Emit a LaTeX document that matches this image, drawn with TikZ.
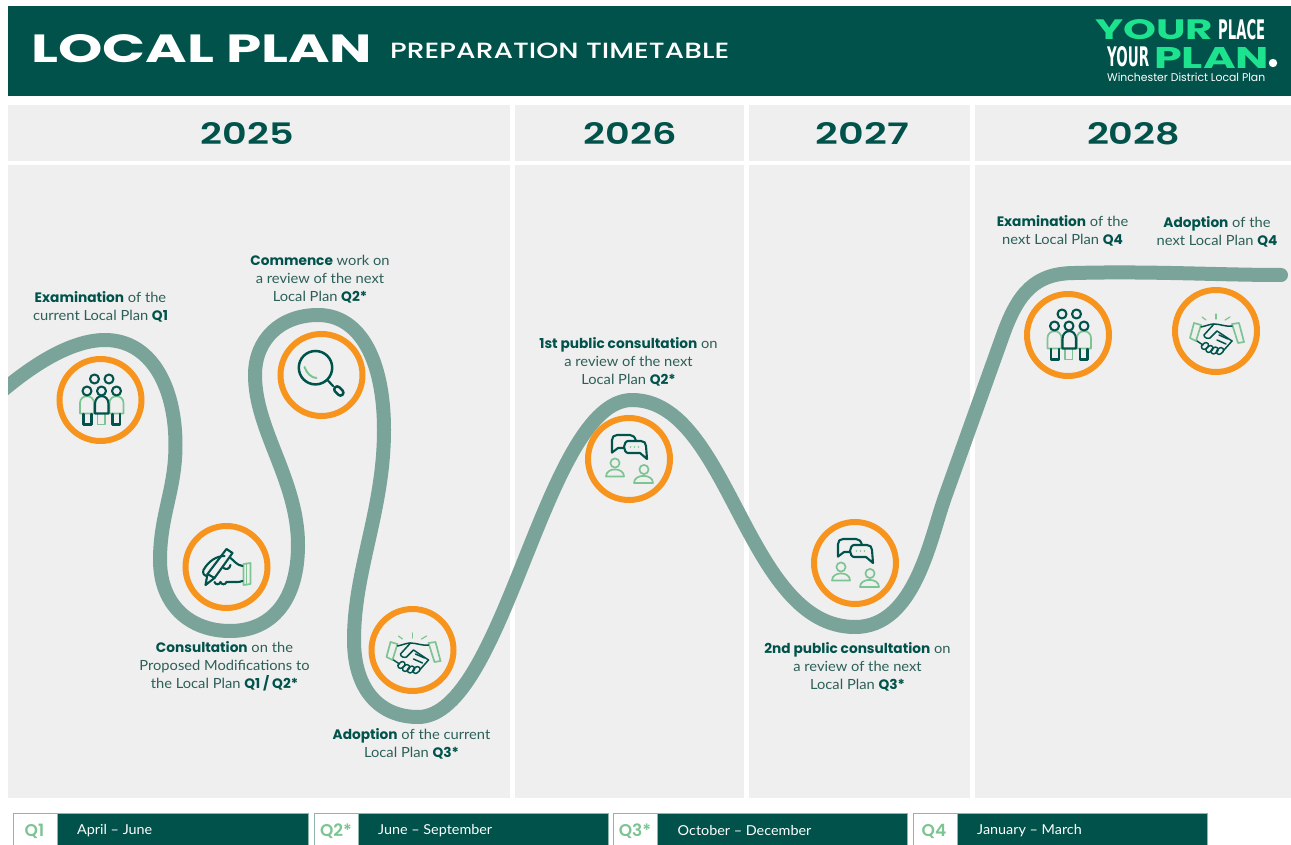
\documentclass[tikz,border=0pt]{standalone}
\usepackage{fontspec}
\usepackage{graphicx}
\setmainfont[FakeStretch=1.05]{Lato}
\newfontfamily\popf{Poppins}
\newfontfamily\popm{Poppins Medium}
\newfontfamily\pops{Poppins SemiBold}
\newfontfamily\narrf{DejaVu Sans}
\definecolor{deep}{HTML}{00524A}
\definecolor{panelgrey}{HTML}{EFEFEF}
\definecolor{road}{HTML}{7AA399}
\definecolor{ringo}{HTML}{F7941D}
\definecolor{leaf}{HTML}{7CC492}
\definecolor{neon}{HTML}{1DE28E}
\definecolor{bodytx}{HTML}{2C5F58}
\definecolor{edgeq}{HTML}{8FB5AC}
\newcommand{\fitbox}[3]{\resizebox{#1pt}{#2pt}{#3}}
\newcommand{\bt}[1]{{\popf\bfseries\fontsize{13.7}{18}\selectfont\color{deep}#1}}
\tikzset{
  x=1pt,y=-1pt,
  panel/.style={fill=panelgrey,draw=none},
  ring/.style={circle,draw=ringo,line width=6pt,minimum size=82pt,inner sep=0pt},
  dk/.style={draw=deep,line width=2.1pt,line cap=round,line join=round},
  lt/.style={draw=leaf,line width=1.7pt,line cap=round,line join=round},
  label/.style={align=center,inner sep=0pt,text=bodytx,font=\fontsize{14}{18}\selectfont},
  fitted/.style={inner sep=0pt,anchor=west},
  yearlabel/.style={inner sep=0pt,text=deep},
  legbar/.style={fill=deep,draw=edgeq,line width=.8pt},
  legq/.style={fill=white,draw=edgeq,line width=.8pt},
  legtx/.style={inner sep=0pt,anchor=west,text=white,font=\fontsize{13.7}{15}\selectfont},
  legqtx/.style={inner sep=0pt,text=leaf,font=\pops\fontsize{17}{18}\selectfont},
  pics/peopleicon/.style={code={
    \draw[lt] (-20.5,13.5) -- (-20.5,3) .. controls (-20.5,-6) and (-6.5,-6) .. (-6.5,3) -- (-6.5,13.5) -- cycle;
    \draw[lt] (9,13.5) -- (9,3) .. controls (9,-6) and (23,-6) .. (23,3) -- (23,13.5) -- cycle;
    \draw[lt] (-3,13.5) rectangle (4.5,24.5);
    \draw[dk] (-5.5,13.5) -- (-5.5,4) .. controls (-5.5,-6.5) and (8,-6.5) .. (8,4) -- (8,13.5) -- cycle;
    \draw[dk] (-17,14) -- (-17,24.5) -- (-9,24.5) -- (-9,14);
    \draw[dk] (12,14) -- (12,24.5) -- (19.5,24.5) -- (19.5,14);
    \draw[dk] (-6,-21) circle (4.5pt);
    \draw[dk] (8.5,-21) circle (4.5pt);
    \draw[dk] (-13.5,-9) circle (4.5pt);
    \draw[dk] (1,-9) circle (4.5pt);
    \draw[dk] (16,-9) circle (4.5pt);
  }},
  pics/writeicon/.style={code={
    \draw[lt] (17,-3) -- (24,-4) -- (24,17) -- (17,18) -- cycle;
    \draw[lt] (20,-3.5) -- (20,17.5);
    \draw[dk] (-21,18) -- (-19,7) -- (0,-18) -- (6,-14) -- (-12,11) -- cycle;
    \draw[dk] (-19,7) -- (-12,11);
    \draw[dk] (-2,-11) .. controls (-10,-11) and (-18,-6) .. (-23,3) .. controls (-24,6) and (-23,8) .. (-20,9);
    \draw[dk] (4,-9) .. controls (8,-6) and (10,-2) .. (16,-1);
    \draw[dk] (-3,1) .. controls (0,3) and (3,2) .. (4,-2);
    \draw[dk] (-12,15) .. controls (-11,18) and (-7,18) .. (-6,15) .. controls (-5,18) and (-1,18) .. (0,15);
    \draw[dk] (0,15) -- (8,15) .. controls (12,15) and (14,15) .. (16,14);
  }},
  pics/lensicon/.style={code={
    \draw[deep,line width=2.5pt] (-6,-7.3) circle (16.7pt);
    \draw[deep,line width=2.2pt,line cap=round] (6,5) -- (11.5,11);
    \draw[dk,line width=2.5pt,rounded corners=3pt,rotate around={-45:(17.3,16)}] (12,13) rectangle (22.6,19);
    \draw[lt,line width=2pt] (-17,-8) .. controls (-15,-2) and (-10,3) .. (-5,3);
  }},
  pics/shakeicon/.style={code={
    \draw[lt] (-22,-8) -- (-15,-6) -- (-20,10) -- (-26,7) -- cycle;
    \draw[lt] (16,-7) -- (23,-8) -- (28,11) -- (22,12) -- cycle;
    \draw[lt,line width=1.2pt] (-14,-14) -- (-10,-11);
    \draw[lt,line width=1.2pt] (0,-17) -- (0,-12);
    \draw[lt,line width=1.2pt] (14,-14) -- (9,-11);
    \draw[dk,line width=1.5pt] (-15,-4) .. controls (-10,-5) and (-6,-7) .. (-2,-7) .. controls (4,-7) and (10,-4) .. (16,-5);
    \draw[dk,line width=1.5pt] (-2,-7) -- (-12,4) .. controls (-12,7) and (-8,8) .. (-6,7) -- (1,0) -- (16,10);
    \draw[dk,line width=1.5pt] (-19,10) -- (-13,14);
    \draw[dk,line width=1.5pt] (16,10) -- (8,19);
    \draw[dk,line width=1.5pt] (3,4) -- (12,8);
    \draw[dk,line width=1.5pt] (1,9) -- (10,13);
    \foreach \fx/\fy in {-11/15,-6.5/18,-1.5/19.5,4/20}
      \draw[dk,line width=1.5pt,rounded corners=2.4pt,rotate around={40:(\fx,\fy)}] (\fx-3.8,\fy-2.6) rectangle (\fx+3.8,\fy+2.6);
  }},
  pics/talkicon/.style={code={
    \draw[dk] (-17,-6.5) -- (-17,-19) .. controls (-17,-22) and (-15,-24) .. (-12,-24) -- (1,-24) .. controls (4,-24) and (6,-22) .. (7,-18);
    \draw[dk] (-17,-6.5) -- (-11,-11) -- (-5,-11);
    \draw[dk] (-1,-18) -- (12,-18) .. controls (15,-18) and (17,-16) .. (17,-13) -- (18,0) -- (11,-6) -- (-1,-6) .. controls (-3,-6) and (-5,-9) .. (-5,-12) .. controls (-5,-15) and (-3,-18) .. (-1,-18) -- cycle;
    \fill[leaf] (1.5,-12) circle (.9pt) (5.5,-12) circle (.9pt) (9.5,-12) circle (.9pt);
    \draw[lt] (-14,4) circle (4.6pt);
    \draw[lt] (-23,17.5) .. controls (-23,8) and (-5,8) .. (-5,17.5) -- cycle;
    \draw[lt] (15,10.5) circle (4.6pt);
    \draw[lt] (5,24) .. controls (5,14.5) and (24,14.5) .. (24,24) -- cycle;
  }},
}
\begin{document}
\begin{tikzpicture}
\useasboundingbox (0,0) rectangle (1291,845);
\fill[white] (0,0) rectangle (1291,845);
% header
\fill[deep] (8,6) rectangle (1291,96);
\node[fitted,text=white] (ttl) at (31,48.5) {\fitbox{341}{28}{\popf\bfseries LOCAL PLAN}};
\node[fitted,text=white] (sub) at (390,51) {\fitbox{339}{15.5}{\popm PREPARATION TIMETABLE}};
\node[fitted,text=neon] (lg1) at (1095,30) {\fitbox{118}{20}{\popf\bfseries YOUR}};
\node[fitted,text=white] (lg2) at (1218,30) {\fitbox{47}{20}{\narrf\bfseries PLACE}};
\node[fitted,text=white] (lg3) at (1107,57) {\fitbox{42}{20}{\narrf\bfseries YOUR}};
\node[fitted,text=neon] (lg4) at (1154,58) {\fitbox{115}{21}{\popf\bfseries PLAN}};
\fill[white] (1273,63) circle (4.2pt);
\node[fitted,text=white] (lg5) at (1107,77.5) {\fitbox{158}{8.5}{\popf Winchester District Local Plan}};
% year panels
\fill[panel] (8,105) rectangle (510,161);
\fill[panel] (515,105) rectangle (744,161);
\fill[panel] (749,105) rectangle (970,161);
\fill[panel] (975,105) rectangle (1291,161);
\fill[panel] (8,165) rectangle (510,798);
\fill[panel] (515,165) rectangle (744,798);
\fill[panel] (749,165) rectangle (970,798);
\fill[panel] (975,165) rectangle (1291,798);
\node[yearlabel] (y25) at (247.5,133.5) {\fitbox{93}{22}{\pops 2025}};
\node[yearlabel] (y26) at (630,133.5) {\fitbox{93}{22}{\pops 2026}};
\node[yearlabel] (y27) at (862.5,133.5) {\fitbox{93}{22}{\pops 2027}};
\node[yearlabel] (y28) at (1133.5,133.5) {\fitbox{93}{22}{\pops 2028}};
% road
\begin{scope}
\clip (8,165) rectangle (1291,798);
\draw[road,line width=14pt,line cap=round,line join=round]
 (-6,398) .. controls (20,375) and (65,340) .. (105,340)
 .. controls (150,340) and (175.5,385) .. (175.5,445)
 .. controls (175.5,490) and (160,515) .. (160,560)
 .. controls (160,605) and (190,631) .. (230,631)
 .. controls (272,631) and (298,600) .. (298,545)
 .. controls (298,480) and (255,430) .. (255,375)
 .. controls (255,340) and (280,315) .. (318,315)
 .. controls (360,315) and (384,360) .. (384,430)
 .. controls (384,510) and (354,570) .. (354,640)
 .. controls (354,690) and (380,717) .. (418,717)
 .. controls (505,717) and (545,400) .. (632,400)
 .. controls (730,400) and (745,627) .. (855,627)
 .. controls (915,627) and (930,539) .. (945,497)
 -- (1003,335)
 .. controls (1018,293) and (1035,273) .. (1075,273)
 .. controls (1150,271) and (1220,275) .. (1281,275);
\end{scope}
% rings and icons
\node[ring] (c1) at (100.5,400) {};
\node[ring] (c2) at (226.5,567) {};
\node[ring] (c3) at (321.5,375) {};
\node[ring] (c4) at (412.5,650) {};
\node[ring] (c5) at (629,459) {};
\node[ring] (c6) at (855,563) {};
\node[ring] (c7) at (1068,335) {};
\node[ring] (c8) at (1216,331) {};
\pic at (c1) {peopleicon};
\pic at (c2) {writeicon};
\pic at (c3) {lensicon};
\pic at (c4) {shakeicon};
\pic at (c5) {talkicon};
\pic at (c6) {talkicon};
\pic at (c7) {peopleicon};
\pic at (c8) {shakeicon};
% labels
\node[label] (t1) at (100.5,306.5) {\bt{Examination} of the\\current Local Plan \bt{Q1}};
\node[label] (t2) at (320,279.5) {\bt{Commence} work on\\a review of the next\\Local Plan \bt{Q2*}};
\node[label] (t3) at (224.5,666.5) {\bt{Consultation} on the\\Proposed Modifications to\\the Local Plan \bt{Q1 / Q2*}};
\node[label] (t4) at (411.5,744) {\bt{Adoption} of the current\\Local Plan \bt{Q3*}};
\node[label] (t5) at (628.5,361.5) {\bt{1st public consultation} on\\a review of the next\\Local Plan \bt{Q2*}};
\node[label] (t6) at (857.5,666.5) {\bt{2nd public consultation} on\\a review of the next\\Local Plan \bt{Q3*}};
\node[label] (t7) at (1062.5,230.5) {\bt{Examination} of the\\next Local Plan \bt{Q4}};
\node[label] (t8) at (1217,231.5) {\bt{Adoption} of the\\next Local Plan \bt{Q4}};
% legend
\fill[legbar] (13.5,813) rectangle (308,850);
\fill[legq] (13.5,813) rectangle (57,850);
\fill[legbar] (314,813) rectangle (608,850);
\fill[legq] (314,813) rectangle (358,850);
\fill[legbar] (613.5,813) rectangle (907,850);
\fill[legq] (613.5,813) rectangle (657,850);
\fill[legbar] (913,813) rectangle (1207,850);
\fill[legq] (913,813) rectangle (957,850);
\node[legqtx] (q1) at (34.5,831) {Q1};
\node[legqtx] (q2) at (336,831) {Q2*};
\node[legqtx] (q3) at (635,831) {Q3*};
\node[legqtx] (q4) at (934,831) {Q4};
\node[legtx] (m1) at (77,831) {April – June};
\node[legtx] (m2) at (378,831) {June – September};
\node[legtx] (m3) at (677.5,831) {October – December};
\node[legtx] (m4) at (977,831) {January – March};
\end{tikzpicture}
\end{document}
